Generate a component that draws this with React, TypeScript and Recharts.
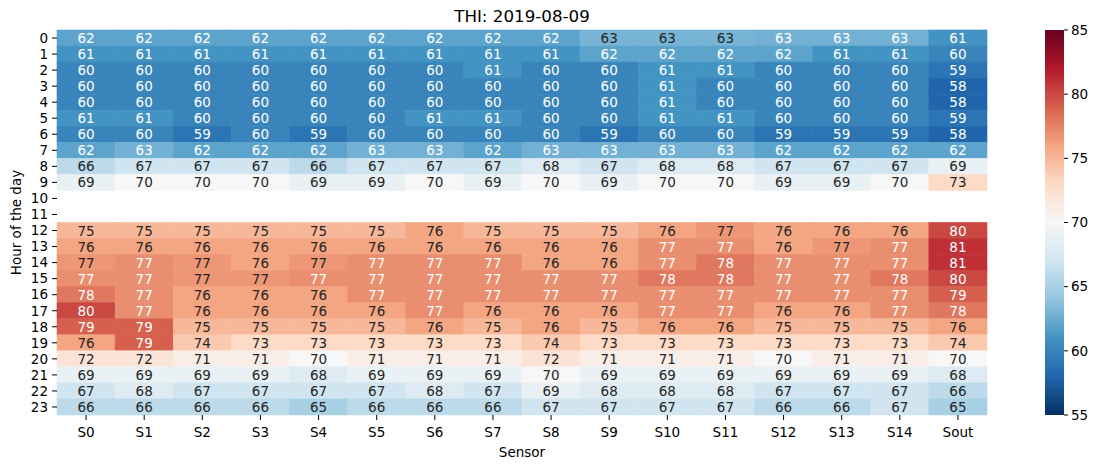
import { BarChart, Bar, XAxis, YAxis } from 'recharts';

// THI readings per sensor, hours 0..23 (hours 10 and 11 missing)
const sensors = ['S0', 'S1', 'S2', 'S3', 'S4', 'S5', 'S6', 'S7', 'S8', 'S9', 'S10', 'S11', 'S12', 'S13', 'S14', 'Sout'];
const hours = Array.from({ length: 24 }, (_, i) => String(i));

const s0 = [62, 61, 60, 60, 60, 61, 60, 62, 66, 69, null, null, 75, 76, 76.6, 77, 78, 80, 79, 76, 72, 69, 67, 66];
const s1 = [62, 61, 60, 60, 60, 61, 60, 62.8, 67, 70, null, null, 75, 76, 77, 77, 77, 77, 79, 79, 72, 69, 68, 66];
const s2 = [62, 61, 60, 60, 60, 60, 59, 62, 67, 70, null, null, 75, 76, 76.6, 76.6, 76, 76, 75, 74, 71, 69, 67, 66];
const s3 = [62, 61, 60, 60, 60, 60, 60, 62, 67, 70, null, null, 75, 76, 76, 76.6, 76, 76, 75, 73, 71, 69, 67, 66];
const s4 = [62, 61, 60, 60, 60, 60, 59, 62, 66, 69, null, null, 75, 76, 76.6, 77, 76, 76, 75, 73, 70, 68, 67, 65];
const s5 = [62, 61, 60, 60, 60, 60, 60, 62.8, 67, 69, null, null, 75, 76, 77, 77, 77, 76, 75, 73, 71, 69, 67, 66];
const s6 = [62, 61, 60, 60, 60, 61, 60, 62.8, 67, 70, null, null, 76, 76, 77, 77, 77, 77, 76, 73, 71, 69, 68, 66];
const s7 = [62, 61, 61, 60, 60, 61, 60, 62, 67, 69, null, null, 75, 76, 77, 77, 77, 76, 75, 73, 71, 69, 67, 66];
const s8 = [62, 61, 60, 60, 60, 60, 60, 62.8, 68, 70, null, null, 75, 76, 76, 77, 77, 76, 76, 74, 72, 70, 69, 67];
const s9 = [63, 62, 60, 60, 60, 60, 59, 62.8, 67, 69, null, null, 75, 76, 76, 77, 77, 76, 75, 73, 71, 69, 68, 67];
const s10 = [63, 62, 61, 61, 61, 61, 60, 62.8, 68, 70, null, null, 76, 77, 77, 78, 77, 77, 76, 73, 71, 69, 68, 67];
const s11 = [63, 62, 61, 60, 60, 61, 60, 62.8, 68, 70, null, null, 76.6, 77, 78, 78, 77, 77, 76, 73, 71, 69, 68, 67];
const s12 = [62.8, 62, 60, 60, 60, 60, 59, 62, 67, 69, null, null, 76, 76, 77, 77, 77, 76, 75, 73, 70, 69, 67, 66];
const s13 = [62.8, 61, 60, 60, 60, 60, 59, 62, 67, 69, null, null, 76, 76.6, 77, 77, 77, 76, 75, 73, 71, 69, 67, 66];
const s14 = [62.8, 61, 60, 60, 60, 60, 59, 62, 67, 70, null, null, 76, 77, 77, 78, 77, 77, 75, 73, 71, 69, 67, 67];
const sout = [61, 60, 59, 58, 58, 59, 58, 62, 69, 73, null, null, 80, 81, 81, 80, 79, 78, 76, 74, 70, 68, 66, 65];

const columns = [s0, s1, s2, s3, s4, s5, s6, s7, s8, s9, s10, s11, s12, s13, s14, sout];
const cbarTicks = [55, 60, 65, 70, 75, 80, 85];
const VMIN = 55;
const VMAX = 85;

// RdBu_r
const rdbu = ['#053061', '#2166ac', '#4393c3', '#92c5de', '#d1e5f0', '#f7f7f7', '#fddbc7', '#f4a582', '#d6604d', '#b2182b', '#67001f'];

const hexRgb = (h: string) => [1, 3, 5].map(i => parseInt(h.slice(i, i + 2), 16));

const colorRgb = (v: number) => {
  const t = Math.min(1, Math.max(0, (v - VMIN) / (VMAX - VMIN))) * 10;
  const i = Math.min(9, Math.floor(t));
  const f = t - i;
  const a = hexRgb(rdbu[i]);
  const b = hexRgb(rdbu[i + 1]);
  return a.map((c, k) => Math.round(c + (b[k] - c) * f));
};

const textColor = (rgb: number[]) => {
  const lin = rgb.map(c => {
    const x = c / 255;
    return x <= 0.03928 ? x / 12.92 : Math.pow((x + 0.055) / 1.055, 2.4);
  });
  const lum = 0.2126 * lin[0] + 0.7152 * lin[1] + 0.0722 * lin[2];
  return lum > 0.408 ? '#262626' : '#ffffff';
};

const data = hours.map((hour, r) => {
  const row: any = { hour };
  columns.forEach((col, j) => {
    row[`v${j}`] = col[r];
    row[`c${j}`] = col[r] == null ? null : 1;
  });
  return row;
});

const font = 'DejaVu Sans, sans-serif';
const tickStyle = { fill: '#000', fontSize: 13.5, fontFamily: font };

const makeCell = (j: number) => (props: any) => {
  const { x, y, width, height, payload } = props;
  const v = payload[`v${j}`];
  if (v == null || !width) return <g />;
  const rgb = colorRgb(v);
  const fill = `rgb(${rgb.join(',')})`;
  return (
    <g>
      <rect x={x} y={y} width={width} height={height} fill={fill} stroke={fill} strokeWidth={0.6} />
      <text
        x={x + width / 2}
        y={y + height / 2}
        textAnchor="middle"
        dominantBaseline="central"
        fill={textColor(rgb)}
        fontSize={13.5}
        fontFamily={font}
      >
        {Math.round(v)}
      </text>
    </g>
  );
};

const App = () => {
  return (
    <div style={{ position: 'relative', width: 1090, height: 452, fontFamily: font }}>
      <div style={{ position: 'absolute', left: 0, top: 0, width: 1028, textAlign: 'center', fontSize: 16.7, lineHeight: '17px', color: '#000' }}>
        THI: 2019-08-09
      </div>
      <div style={{ position: 'absolute', left: 0, top: 0 }}>
        <BarChart
          width={1000}
          height={452}
          data={data}
          layout="vertical"
          barCategoryGap={0}
          margin={{ top: 22, right: 21, bottom: 0, left: 0 }}
        >
          <XAxis
            type="number"
            domain={[0, 16]}
            ticks={sensors.map((_, i) => i + 0.5)}
            tickFormatter={(v: number) => sensors[Math.floor(v)]}
            interval={0}
            height={45}
            axisLine={false}
            tickLine={{ stroke: '#000' }}
            tickSize={5}
            tickMargin={7}
            tick={tickStyle}
            label={{ value: 'Sensor', position: 'insideBottom', offset: 3, style: { ...tickStyle, textAnchor: 'middle' } }}
          />
          <YAxis
            type="category"
            dataKey="hour"
            width={49}
            interval={0}
            axisLine={false}
            tickLine={{ stroke: '#000' }}
            tickSize={5}
            tickMargin={4}
            tick={tickStyle}
            label={{ value: 'Hour of the day', angle: -90, position: 'insideLeft', offset: 8, style: { ...tickStyle, textAnchor: 'middle' } }}
          />
          {sensors.map((name, j) => (
            <Bar key={name} dataKey={`c${j}`} stackId="cells" isAnimationActive={false} shape={makeCell(j)} />
          ))}
        </BarChart>
      </div>
      <div style={{ position: 'absolute', left: 1037, top: 0 }}>
        <BarChart
          width={52}
          height={452}
          data={[{ k: 'cbar', r: [VMIN, VMAX] }]}
          barCategoryGap={0}
          margin={{ top: 22, right: 0, bottom: 45, left: 0 }}
        >
          <defs>
            <linearGradient id="cbGrad" x1="0" y1="1" x2="0" y2="0">
              {rdbu.map((c, k) => (
                <stop key={k} offset={`${k * 10}%`} stopColor={c} />
              ))}
            </linearGradient>
          </defs>
          <XAxis dataKey="k" type="category" hide />
          <YAxis
            orientation="right"
            type="number"
            domain={[VMIN, VMAX]}
            ticks={cbarTicks}
            width={33}
            axisLine={false}
            tickLine={{ stroke: '#000' }}
            tickSize={4}
            tickMargin={3}
            tick={{ ...tickStyle, textAnchor: 'start' }}
          />
          <Bar dataKey="r" fill="url(#cbGrad)" isAnimationActive={false} />
        </BarChart>
      </div>
    </div>
  );
};

export default App;
